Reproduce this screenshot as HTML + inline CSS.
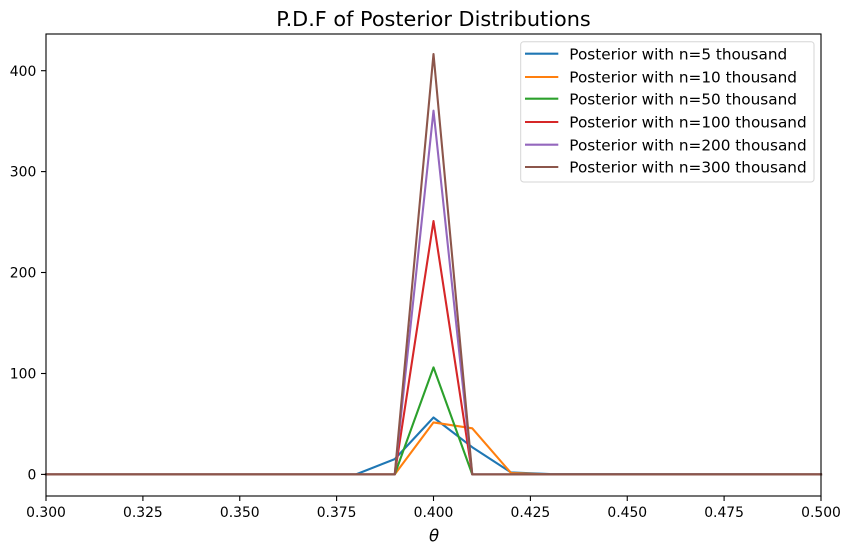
<!DOCTYPE html>
<html>
<head>
<meta charset="utf-8">
<style>
  html, body { margin: 0; padding: 0; background: #ffffff; }
  svg { display: block; }
  text { font-family: "DejaVu Sans", "Liberation Sans", sans-serif; fill: #000; }
</style>
</head>
<body>
<svg width="851" height="555" viewBox="0 0 851 555" xmlns="http://www.w3.org/2000/svg">
  <rect x="0" y="0" width="851" height="555" fill="#ffffff"/>

  <!-- Title -->
  <text x="433.5" y="26" font-size="20.8" text-anchor="middle">P.D.F of Posterior Distributions</text>

  <!-- Series -->
  <g fill="none" stroke-width="2.1" stroke-linejoin="round" stroke-linecap="square">
    <polyline stroke="#1f77b4" points="46,474.4 356,474.4 394.75,459.1 433.5,417.5 472.25,447.2 511,472.4 549.75,474.0 821,474.4"/>
    <polyline stroke="#ff7f0e" points="46,474.4 394.75,474.4 433.5,422.4 472.25,428.3 511,473 549.75,474.4 821,474.4"/>
    <polyline stroke="#2ca02c" points="46,474.4 394.75,474.4 433.5,367.4 472.25,474.4 821,474.4"/>
    <polyline stroke="#d62728" points="46,474.4 394.75,474.4 433.5,221.1 472.25,474.4 821,474.4"/>
    <polyline stroke="#9467bd" points="46,474.4 394.75,474.4 433.5,110.7 472.25,474.4 821,474.4"/>
    <polyline stroke="#8c564b" points="46,474.4 394.75,474.4 433.5,54 472.25,474.4 821,474.4"/>
  </g>

  <!-- Axes frame -->
  <rect x="46" y="34" width="775" height="462" fill="none" stroke="#000" stroke-width="1.1"/>

  <!-- X ticks -->
  <g stroke="#000" stroke-width="1.1">
    <line x1="46" y1="496" x2="46" y2="501"/>
    <line x1="142.9" y1="496" x2="142.9" y2="501"/>
    <line x1="239.75" y1="496" x2="239.75" y2="501"/>
    <line x1="336.6" y1="496" x2="336.6" y2="501"/>
    <line x1="433.5" y1="496" x2="433.5" y2="501"/>
    <line x1="530.4" y1="496" x2="530.4" y2="501"/>
    <line x1="627.25" y1="496" x2="627.25" y2="501"/>
    <line x1="724.1" y1="496" x2="724.1" y2="501"/>
    <line x1="821" y1="496" x2="821" y2="501"/>
  </g>
  <g font-size="13.9" text-anchor="middle">
    <text x="46" y="517">0.300</text>
    <text x="142.9" y="517">0.325</text>
    <text x="239.75" y="517">0.350</text>
    <text x="336.6" y="517">0.375</text>
    <text x="433.5" y="517">0.400</text>
    <text x="530.4" y="517">0.425</text>
    <text x="627.25" y="517">0.450</text>
    <text x="724.1" y="517">0.475</text>
    <text x="821" y="517">0.500</text>
  </g>

  <!-- Y ticks -->
  <g stroke="#000" stroke-width="1.1">
    <line x1="41" y1="474.4" x2="46" y2="474.4"/>
    <line x1="41" y1="373.5" x2="46" y2="373.5"/>
    <line x1="41" y1="272.5" x2="46" y2="272.5"/>
    <line x1="41" y1="171.6" x2="46" y2="171.6"/>
    <line x1="41" y1="70.7" x2="46" y2="70.7"/>
  </g>
  <g font-size="13.9" text-anchor="end">
    <text x="36.3" y="479.5">0</text>
    <text x="36.3" y="378.6">100</text>
    <text x="36.3" y="277.6">200</text>
    <text x="36.3" y="176.7">300</text>
    <text x="36.3" y="75.8">400</text>
  </g>

  <!-- X label -->
  <text x="434" y="541.5" font-size="16.5" font-style="italic" text-anchor="middle">θ</text>

  <!-- Legend -->
  <rect x="520.7" y="41.7" width="293.3" height="140.3" rx="3" ry="3" fill="#ffffff" fill-opacity="0.8" stroke="#d6d6d6" stroke-width="1"/>
  <g stroke-width="2.1">
    <line x1="525" y1="53.7" x2="558.3" y2="53.7" stroke="#1f77b4"/>
    <line x1="525" y1="77" x2="558.3" y2="77" stroke="#ff7f0e"/>
    <line x1="525" y1="98.7" x2="558.3" y2="98.7" stroke="#2ca02c"/>
    <line x1="525" y1="122" x2="558.3" y2="122" stroke="#d62728"/>
    <line x1="525" y1="144.7" x2="558.3" y2="144.7" stroke="#9467bd"/>
    <line x1="525" y1="167" x2="558.3" y2="167" stroke="#8c564b"/>
  </g>
  <g font-size="15.28">
    <text x="569.3" y="59.3">Posterior with n=5 thousand</text>
    <text x="569.3" y="82.6">Posterior with n=10 thousand</text>
    <text x="569.3" y="104.3">Posterior with n=50 thousand</text>
    <text x="569.3" y="127.6">Posterior with n=100 thousand</text>
    <text x="569.3" y="150.3">Posterior with n=200 thousand</text>
    <text x="569.3" y="172.6">Posterior with n=300 thousand</text>
  </g>
</svg>
</body>
</html>
